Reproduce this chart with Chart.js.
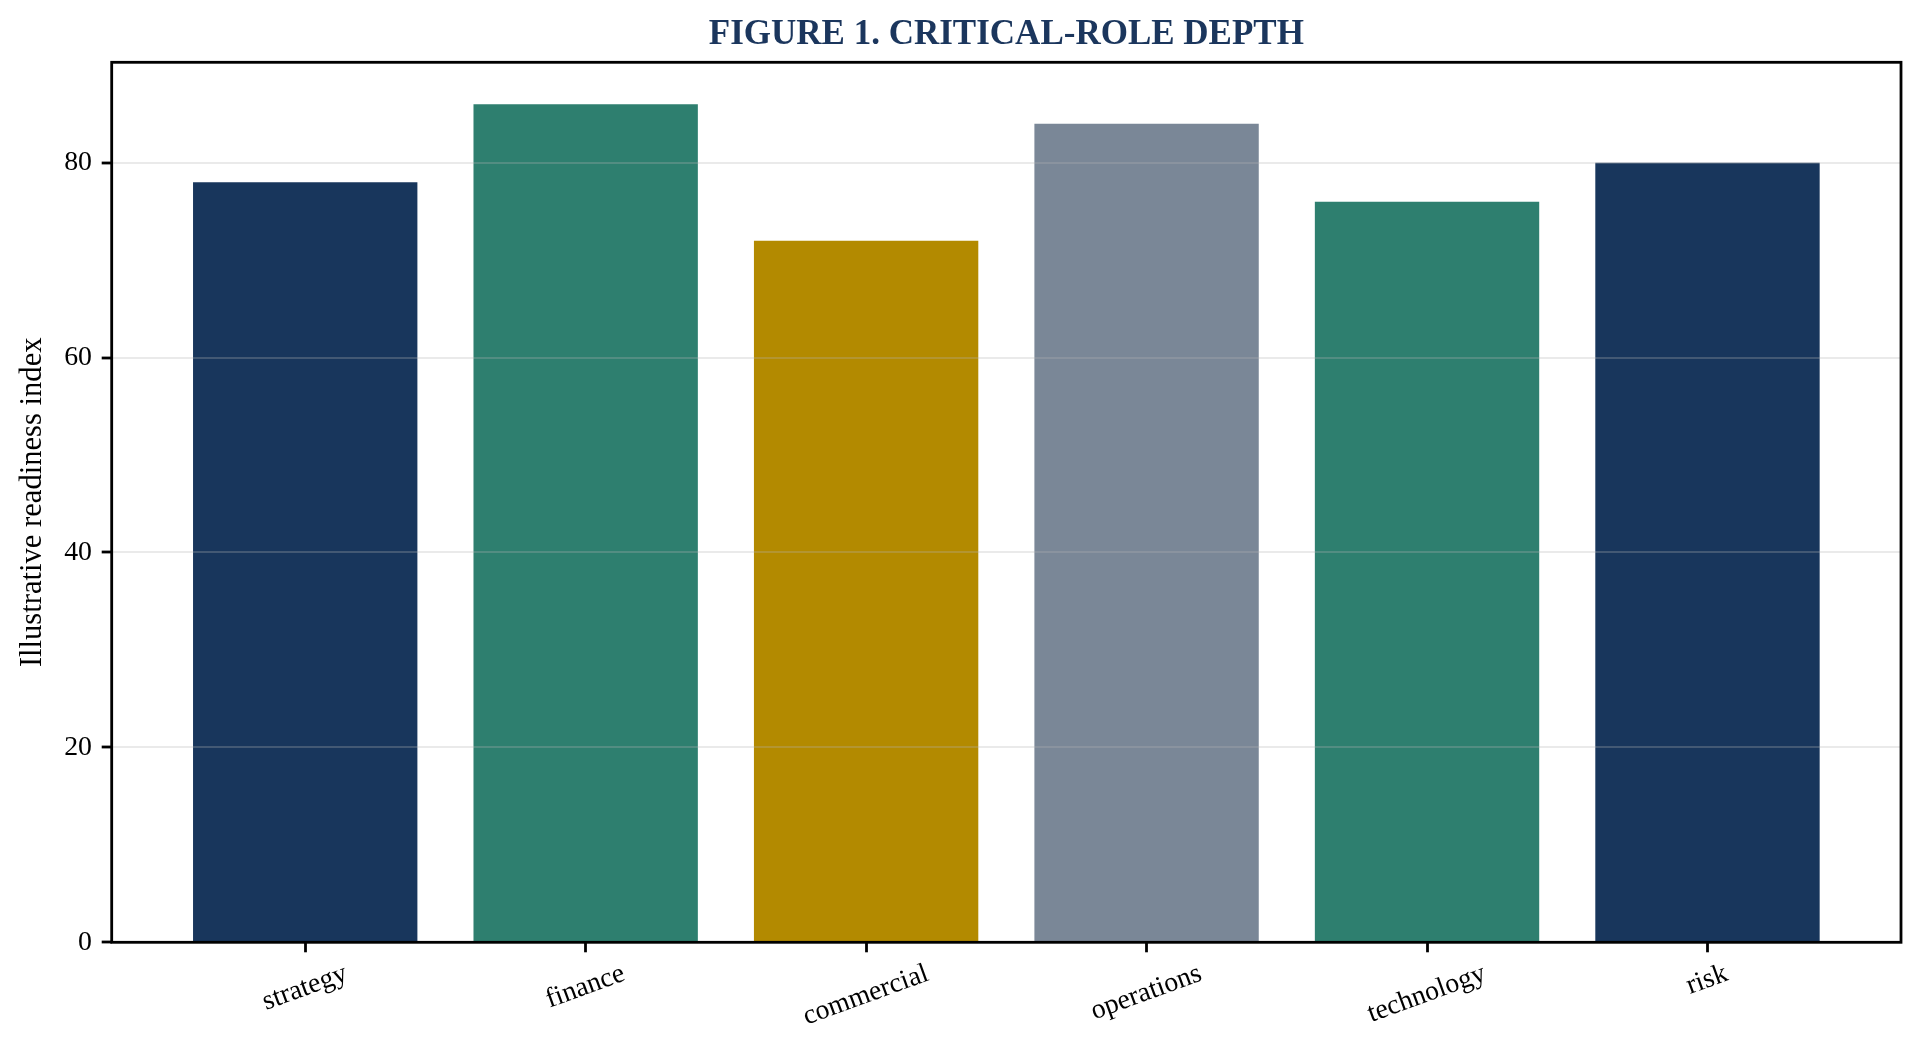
<!DOCTYPE html>
<html>
<head>
<meta charset="utf-8">
<script src="https://cdn.jsdelivr.net/npm/chart.js@4.4.1/dist/chart.umd.min.js"></script>
<style>
  html, body { margin: 0; padding: 0; background: #ffffff; }
  #wrap { width: 1924px; height: 1060px; position: relative; }
</style>
</head>
<body>
<div id="wrap"><canvas id="c"></canvas></div>
<script>
// ---- data ----
const categories = ["strategy", "finance", "commercial", "operations", "technology", "risk"];
const readiness = [78, 86, 72, 84, 76, 80];
const yTicks = [0, 20, 40, 60, 80];
const titleText = "FIGURE 1. CRITICAL-ROLE DEPTH";
const yAxisLabel = "Illustrative readiness index";
const barColors = ["#18365c", "#2e7f6f", "#b38a00", "#7a8797", "#2e7f6f", "#18365c"];

const FONT = "'Liberation Serif', 'Times New Roman', serif";
const TICK_SIZE = 27.8;

const bgPlugin = {
  id: 'bg',
  beforeDraw(chart) {
    const ctx = chart.ctx;
    ctx.save();
    ctx.fillStyle = '#ffffff';
    ctx.fillRect(0, 0, chart.width, chart.height);
    ctx.restore();
  }
};

const decorPlugin = {
  id: 'decor',
  afterDraw(chart) {
    const ctx = chart.ctx;
    const a = chart.chartArea;
    ctx.save();
    // frame
    ctx.strokeStyle = '#000000';
    ctx.lineWidth = 2.8;
    ctx.strokeRect(a.left, a.top, a.right - a.left, a.bottom - a.top);
    // title centered on plot area
    ctx.fillStyle = '#1b365d';
    ctx.font = "bold 35px " + FONT;
    ctx.textAlign = 'center';
    ctx.textBaseline = 'alphabetic';
    ctx.fillText(titleText, (a.left + a.right) / 2, 44);
    // rotated x labels, centered under ticks (matplotlib style)
    const xs = chart.scales.x;
    ctx.fillStyle = '#000000';
    ctx.font = TICK_SIZE + "px " + FONT;
    const ang = 20 * Math.PI / 180;
    const h = 0.9 * TICK_SIZE;
    const top = a.bottom + 10 + 9.7;
    categories.forEach((lab, i) => {
      const w = ctx.measureText(lab).width;
      const H = w * Math.sin(ang) + h * Math.cos(ang);
      const cx = xs.getPixelForValue(i);
      const cy = top + H / 2;
      ctx.save();
      ctx.translate(cx, cy);
      ctx.rotate(-ang);
      ctx.textAlign = 'center';
      ctx.textBaseline = 'alphabetic';
      ctx.fillText(lab, 0, 0.233 * TICK_SIZE);
      ctx.restore();
    });
    ctx.restore();
  }
};

const ctx = document.getElementById('c');
new Chart(ctx, {
  type: 'bar',
  data: {
    datasets: [{
      data: categories.map((c, i) => ({ x: i, y: readiness[i] })),
      backgroundColor: barColors,
      borderWidth: 0,
      categoryPercentage: 1.0,
      barPercentage: 0.8
    }]
  },
  plugins: [bgPlugin, decorPlugin],
  options: {
    responsive: true,
    maintainAspectRatio: false,
    animation: false,
    devicePixelRatio: 1,
    layout: { padding: { left: 0, top: 62.3, right: 23, bottom: 0 } },
    plugins: { legend: { display: false }, tooltip: { enabled: false }, title: { display: false } },
    scales: {
      x: {
        type: 'linear',
        offset: false,
        min: -0.69,
        max: 5.69,
        afterBuildTicks: s => { s.ticks = categories.map((c, i) => ({ value: i })); },
        afterFit: s => { s.height = 1060 - 942.3; },
        ticks: { display: false },
        border: { display: false },
        grid: {
          display: true,
          offset: false,
          drawOnChartArea: false,
          drawTicks: true,
          tickLength: 10,
          tickColor: '#000000',
          tickWidth: 2.8,
          color: '#000000'
        }
      },
      y: {
        type: 'linear',
        min: 0,
        max: 90.3,
        afterBuildTicks: s => { s.ticks = yTicks.map(v => ({ value: v })); },
        afterFit: s => { s.width = 111.7; },
        border: { display: false },
        ticks: {
          color: '#000000',
          font: { family: FONT, size: TICK_SIZE },
          padding: 9.7,
          callback: v => String(v)
        },
        grid: {
          z: 1,
          color: 'rgba(180,180,180,0.28)',
          lineWidth: 2,
          drawTicks: true,
          tickLength: 10,
          tickColor: '#000000',
          tickWidth: 2.8
        },
        title: {
          display: true,
          text: yAxisLabel,
          color: '#000000',
          font: { family: FONT, size: 30.6 },
          padding: { top: 15, bottom: 0 }
        }
      }
    }
  }
});
</script>
</body>
</html>
